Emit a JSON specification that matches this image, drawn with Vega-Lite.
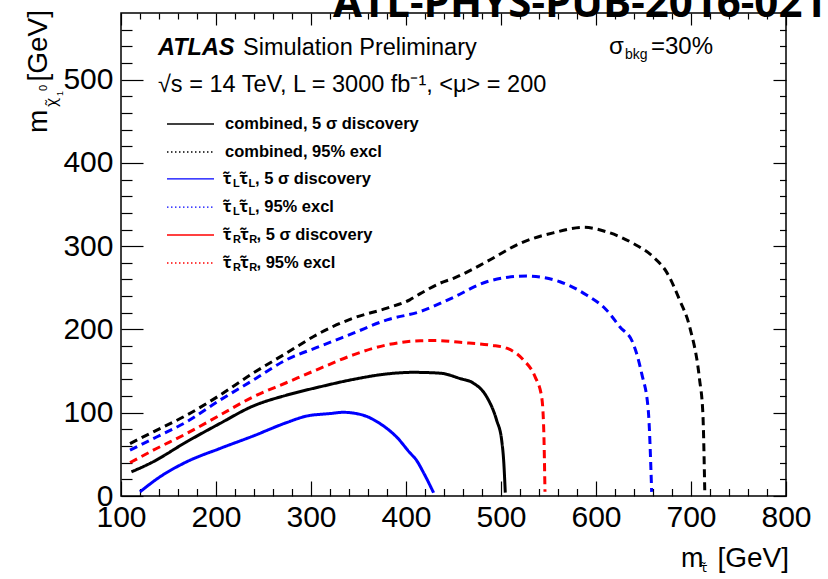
{
  "$schema": "https://vega.github.io/schema/vega-lite/v6.json",
  "width": 665,
  "height": 483,
  "autosize": {"type": "none"},
  "padding": {"left": 121, "top": 13, "right": 42, "bottom": 83},
  "background": "white",
  "config": {
    "view": {"stroke": "black", "strokeWidth": 1.5},
    "font": "Liberation Sans"
  },
  "data": {"values": [{}]},
  "datasets": {
    "curves": [
      {"s": "comb_disc", "m_stau": 111, "m_chi": 29},
      {"s": "comb_disc", "m_stau": 132, "m_chi": 40},
      {"s": "comb_disc", "m_stau": 169, "m_chi": 65},
      {"s": "comb_disc", "m_stau": 204, "m_chi": 87},
      {"s": "comb_disc", "m_stau": 239, "m_chi": 108},
      {"s": "comb_disc", "m_stau": 274, "m_chi": 121},
      {"s": "comb_disc", "m_stau": 309, "m_chi": 131},
      {"s": "comb_disc", "m_stau": 344.5, "m_chi": 140},
      {"s": "comb_disc", "m_stau": 380, "m_chi": 146.6},
      {"s": "comb_disc", "m_stau": 407.6, "m_chi": 148.5},
      {"s": "comb_disc", "m_stau": 436, "m_chi": 147.5},
      {"s": "comb_disc", "m_stau": 457, "m_chi": 141},
      {"s": "comb_disc", "m_stau": 471, "m_chi": 135.5},
      {"s": "comb_disc", "m_stau": 485, "m_chi": 119},
      {"s": "comb_disc", "m_stau": 495.4, "m_chi": 91},
      {"s": "comb_disc", "m_stau": 500.7, "m_chi": 67},
      {"s": "comb_disc", "m_stau": 503, "m_chi": 39},
      {"s": "comb_disc", "m_stau": 504.5, "m_chi": 4},

      {"s": "LL_disc", "m_stau": 120, "m_chi": 5},
      {"s": "LL_disc", "m_stau": 141, "m_chi": 23},
      {"s": "LL_disc", "m_stau": 169, "m_chi": 41},
      {"s": "LL_disc", "m_stau": 204, "m_chi": 57},
      {"s": "LL_disc", "m_stau": 239, "m_chi": 72},
      {"s": "LL_disc", "m_stau": 274, "m_chi": 88},
      {"s": "LL_disc", "m_stau": 295.5, "m_chi": 96},
      {"s": "LL_disc", "m_stau": 320, "m_chi": 99},
      {"s": "LL_disc", "m_stau": 334, "m_chi": 100.5},
      {"s": "LL_disc", "m_stau": 355, "m_chi": 97},
      {"s": "LL_disc", "m_stau": 372.6, "m_chi": 87},
      {"s": "LL_disc", "m_stau": 380, "m_chi": 81},
      {"s": "LL_disc", "m_stau": 390, "m_chi": 71},
      {"s": "LL_disc", "m_stau": 404, "m_chi": 52},
      {"s": "LL_disc", "m_stau": 411, "m_chi": 43},
      {"s": "LL_disc", "m_stau": 418, "m_chi": 29},
      {"s": "LL_disc", "m_stau": 429, "m_chi": 4},

      {"s": "RR_excl", "m_stau": 109.5, "m_chi": 40},
      {"s": "RR_excl", "m_stau": 134, "m_chi": 55},
      {"s": "RR_excl", "m_stau": 169, "m_chi": 75},
      {"s": "RR_excl", "m_stau": 204, "m_chi": 97},
      {"s": "RR_excl", "m_stau": 239, "m_chi": 119},
      {"s": "RR_excl", "m_stau": 274, "m_chi": 136},
      {"s": "RR_excl", "m_stau": 309, "m_chi": 153},
      {"s": "RR_excl", "m_stau": 344.5, "m_chi": 169.5},
      {"s": "RR_excl", "m_stau": 380, "m_chi": 181.5},
      {"s": "RR_excl", "m_stau": 415, "m_chi": 186.5},
      {"s": "RR_excl", "m_stau": 432, "m_chi": 186.7},
      {"s": "RR_excl", "m_stau": 457, "m_chi": 184.5},
      {"s": "RR_excl", "m_stau": 490, "m_chi": 181},
      {"s": "RR_excl", "m_stau": 506, "m_chi": 177.5},
      {"s": "RR_excl", "m_stau": 523.5, "m_chi": 163.5},
      {"s": "RR_excl", "m_stau": 535.8, "m_chi": 143.4},
      {"s": "RR_excl", "m_stau": 542.8, "m_chi": 119},
      {"s": "RR_excl", "m_stau": 545, "m_chi": 79},
      {"s": "RR_excl", "m_stau": 546.3, "m_chi": 5},

      {"s": "LL_excl", "m_stau": 109.5, "m_chi": 55},
      {"s": "LL_excl", "m_stau": 134, "m_chi": 69},
      {"s": "LL_excl", "m_stau": 169, "m_chi": 89},
      {"s": "LL_excl", "m_stau": 204, "m_chi": 115},
      {"s": "LL_excl", "m_stau": 239, "m_chi": 139},
      {"s": "LL_excl", "m_stau": 274, "m_chi": 163.5},
      {"s": "LL_excl", "m_stau": 309, "m_chi": 179.5},
      {"s": "LL_excl", "m_stau": 344.5, "m_chi": 195.5},
      {"s": "LL_excl", "m_stau": 380, "m_chi": 211.5},
      {"s": "LL_excl", "m_stau": 415, "m_chi": 221.5},
      {"s": "LL_excl", "m_stau": 450, "m_chi": 238.6},
      {"s": "LL_excl", "m_stau": 485, "m_chi": 257.3},
      {"s": "LL_excl", "m_stau": 527, "m_chi": 264.2},
      {"s": "LL_excl", "m_stau": 562, "m_chi": 257.3},
      {"s": "LL_excl", "m_stau": 590, "m_chi": 241.4},
      {"s": "LL_excl", "m_stau": 611, "m_chi": 223.4},
      {"s": "LL_excl", "m_stau": 625, "m_chi": 203.3},
      {"s": "LL_excl", "m_stau": 639, "m_chi": 183.5},
      {"s": "LL_excl", "m_stau": 648, "m_chi": 147.5},
      {"s": "LL_excl", "m_stau": 655, "m_chi": 103.4},
      {"s": "LL_excl", "m_stau": 658.6, "m_chi": 5},

      {"s": "comb_excl", "m_stau": 109.5, "m_chi": 63},
      {"s": "comb_excl", "m_stau": 134, "m_chi": 77},
      {"s": "comb_excl", "m_stau": 169, "m_chi": 97},
      {"s": "comb_excl", "m_stau": 204, "m_chi": 121},
      {"s": "comb_excl", "m_stau": 239, "m_chi": 147.5},
      {"s": "comb_excl", "m_stau": 274, "m_chi": 171.5},
      {"s": "comb_excl", "m_stau": 309, "m_chi": 195.5},
      {"s": "comb_excl", "m_stau": 344.5, "m_chi": 213.6},
      {"s": "comb_excl", "m_stau": 380, "m_chi": 225.6},
      {"s": "comb_excl", "m_stau": 404, "m_chi": 235.6},
      {"s": "comb_excl", "m_stau": 415, "m_chi": 243},
      {"s": "comb_excl", "m_stau": 436, "m_chi": 255.6},
      {"s": "comb_excl", "m_stau": 450, "m_chi": 261.4},
      {"s": "comb_excl", "m_stau": 485, "m_chi": 281.4},
      {"s": "comb_excl", "m_stau": 520, "m_chi": 303.4},
      {"s": "comb_excl", "m_stau": 555, "m_chi": 316},
      {"s": "comb_excl", "m_stau": 587, "m_chi": 322.6},
      {"s": "comb_excl", "m_stau": 611, "m_chi": 317.3},
      {"s": "comb_excl", "m_stau": 639, "m_chi": 303.4},
      {"s": "comb_excl", "m_stau": 660, "m_chi": 287.4},
      {"s": "comb_excl", "m_stau": 674, "m_chi": 269.4},
      {"s": "comb_excl", "m_stau": 688, "m_chi": 235.4},
      {"s": "comb_excl", "m_stau": 699, "m_chi": 201.4},
      {"s": "comb_excl", "m_stau": 709, "m_chi": 140},
      {"s": "comb_excl", "m_stau": 712.5, "m_chi": 99},
      {"s": "comb_excl", "m_stau": 714.5, "m_chi": 5}
    ]
  },
  "resolve": {"axis": {"x": "independent", "y": "independent"}},
  "layer": [
    {
      "data": {"name": "curves"},
      "mark": {"type": "line", "strokeWidth": 3, "strokeCap": "butt", "interpolate": "monotone", "clip": true},
      "encoding": {
        "x": {
          "field": "m_stau", "type": "quantitative",
          "scale": {"domain": [100, 800], "nice": false, "zero": false},
          "axis": {"orient": "bottom", "values": [100, 200, 300, 400, 500, 600, 700, 800], "ticks": false, "domain": false, "grid": false, "labelFont": "Liberation Sans", "labelFontSize": 30, "labelColor": "black", "labelPadding": 6, "labelFlush": false, "labelOverlap": false, "title": null}
        },
        "y": {
          "field": "m_chi", "type": "quantitative",
          "scale": {"domain": [0, 580], "nice": false, "zero": false},
          "axis": {"orient": "left", "values": [0, 100, 200, 300, 400, 500], "ticks": false, "domain": false, "grid": false, "labelFont": "Liberation Sans", "labelFontSize": 30, "labelColor": "black", "labelPadding": 8, "labelFlush": false, "labelOverlap": false, "title": null}
        },
        "color": {
          "field": "s", "type": "nominal", "legend": null,
          "scale": {"domain": ["comb_disc", "comb_excl", "LL_disc", "LL_excl", "RR_excl"], "range": ["#000000", "#000000", "#0000ff", "#0000ff", "#ff0000"]}
        },
        "strokeDash": {
          "field": "s", "type": "nominal", "legend": null,
          "scale": {"domain": ["comb_disc", "comb_excl", "LL_disc", "LL_excl", "RR_excl"], "range": [[1, 0], [8, 5], [1, 0], [8, 5], [8, 5]]}
        }
      }
    },
    {
      "mark": {"type": "rule", "color": "black", "strokeWidth": 1.3},
      "encoding": {
        "x": {"datum": 148.4, "axis": {"orient": "bottom", "values": [100, 200, 300, 400, 500, 600, 700, 800], "labels": false, "domain": false, "grid": false, "tickSize": -15, "tickColor": "black", "tickWidth": 1.2, "title": null}},
        "x2": {"datum": 197.9},
        "y": {"datum": 446.7, "axis": {"orient": "left", "values": [0, 100, 200, 300, 400, 500], "labels": false, "domain": false, "grid": false, "tickSize": -22, "tickColor": "black", "tickWidth": 1.2, "title": null}}
      }
    },
    {
      "mark": {"type": "rule", "color": "black", "strokeWidth": 1.3, "strokeDash": [1.5, 2.5]},
      "encoding": {
        "x": {"datum": 148.4, "axis": {"orient": "bottom", "values": [120, 140, 160, 180, 220, 240, 260, 280, 320, 340, 360, 380, 420, 440, 460, 480, 520, 540, 560, 580, 620, 640, 660, 680, 720, 740, 760, 780], "labels": false, "domain": false, "grid": false, "tickSize": -7.5, "tickColor": "black", "tickWidth": 1.2, "title": null}},
        "x2": {"datum": 197.9},
        "y": {"datum": 413.1, "axis": {"orient": "left", "values": [20, 40, 60, 80, 120, 140, 160, 180, 220, 240, 260, 280, 320, 340, 360, 380, 420, 440, 460, 480, 520, 540, 560], "labels": false, "domain": false, "grid": false, "tickSize": -11, "tickColor": "black", "tickWidth": 1.2, "title": null}}
      }
    },
    {
      "mark": {"type": "rule", "color": "#0000ff", "strokeWidth": 1.3},
      "encoding": {
        "x": {"datum": 148.4, "axis": {"orient": "top", "values": [100, 200, 300, 400, 500, 600, 700, 800], "labels": false, "domain": false, "grid": false, "tickSize": -12, "tickColor": "black", "tickWidth": 1.2, "title": null}},
        "x2": {"datum": 197.9},
        "y": {"datum": 380.7, "axis": {"orient": "right", "values": [0, 100, 200, 300, 400, 500], "labels": false, "domain": false, "grid": false, "tickSize": -13, "tickColor": "black", "tickWidth": 1.2, "title": null}}
      }
    },
    {
      "mark": {"type": "rule", "color": "#0000ff", "strokeWidth": 1.3, "strokeDash": [1.5, 2.5]},
      "encoding": {
        "x": {"datum": 148.4, "axis": {"orient": "top", "values": [120, 140, 160, 180, 220, 240, 260, 280, 320, 340, 360, 380, 420, 440, 460, 480, 520, 540, 560, 580, 620, 640, 660, 680, 720, 740, 760, 780], "labels": false, "domain": false, "grid": false, "tickSize": -6, "tickColor": "black", "tickWidth": 1.2, "title": null}},
        "x2": {"datum": 197.9},
        "y": {"datum": 347.0, "axis": {"orient": "right", "values": [20, 40, 60, 80, 120, 140, 160, 180, 220, 240, 260, 280, 320, 340, 360, 380, 420, 440, 460, 480, 520, 540, 560], "labels": false, "domain": false, "grid": false, "tickSize": -6.5, "tickColor": "black", "tickWidth": 1.2, "title": null}}
      }
    },
    {
      "mark": {"type": "rule", "color": "#ff0000", "strokeWidth": 1.3},
      "encoding": {"x": {"datum": 148.4, "axis": null}, "x2": {"datum": 197.9}, "y": {"datum": 313.4, "axis": null}}
    },
    {
      "mark": {"type": "rule", "color": "#ff0000", "strokeWidth": 1.3, "strokeDash": [1.5, 2.5]},
      "encoding": {"x": {"datum": 148.4, "axis": null}, "x2": {"datum": 197.9}, "y": {"datum": 279.8, "axis": null}}
    },

    {"mark": {"type": "text", "text": "combined, 5 σ discovery", "font": "Liberation Sans", "fontSize": 16.5, "fontWeight": "bold", "align": "left", "baseline": "middle", "color": "black"},
     "encoding": {"x": {"datum": 209.5, "axis": null}, "y": {"datum": 446.7, "axis": null}}},
    {"mark": {"type": "text", "text": "combined, 95% excl", "font": "Liberation Sans", "fontSize": 16.5, "fontWeight": "bold", "align": "left", "baseline": "middle", "color": "black"},
     "encoding": {"x": {"datum": 209.5, "axis": null}, "y": {"datum": 413.1, "axis": null}}},

    {"mark": {"type": "text", "text": "τ̃", "font": "Noto Sans", "fontSize": 16, "fontWeight": "bold", "align": "left", "baseline": "middle", "color": "black"},
     "encoding": {"x": {"datum": 207.4, "axis": null}, "y": {"datum": 380.7, "axis": null}}},
    {"mark": {"type": "text", "text": "L", "font": "Liberation Sans", "fontSize": 11, "fontWeight": "bold", "align": "left", "baseline": "middle", "dy": 5, "color": "black"},
     "encoding": {"x": {"datum": 217.9, "axis": null}, "y": {"datum": 380.7, "axis": null}}},
    {"mark": {"type": "text", "text": "τ̃", "font": "Noto Sans", "fontSize": 16, "fontWeight": "bold", "align": "left", "baseline": "middle", "color": "black"},
     "encoding": {"x": {"datum": 224.7, "axis": null}, "y": {"datum": 380.7, "axis": null}}},
    {"mark": {"type": "text", "text": "L", "font": "Liberation Sans", "fontSize": 11, "fontWeight": "bold", "align": "left", "baseline": "middle", "dy": 5, "color": "black"},
     "encoding": {"x": {"datum": 234.2, "axis": null}, "y": {"datum": 380.7, "axis": null}}},
    {"mark": {"type": "text", "text": ", 5 σ discovery", "font": "Liberation Sans", "fontSize": 16.5, "fontWeight": "bold", "align": "left", "baseline": "middle", "color": "black"},
     "encoding": {"x": {"datum": 241.1, "axis": null}, "y": {"datum": 380.7, "axis": null}}},

    {"mark": {"type": "text", "text": "τ̃", "font": "Noto Sans", "fontSize": 16, "fontWeight": "bold", "align": "left", "baseline": "middle", "color": "black"},
     "encoding": {"x": {"datum": 207.4, "axis": null}, "y": {"datum": 347.0, "axis": null}}},
    {"mark": {"type": "text", "text": "L", "font": "Liberation Sans", "fontSize": 11, "fontWeight": "bold", "align": "left", "baseline": "middle", "dy": 5, "color": "black"},
     "encoding": {"x": {"datum": 217.9, "axis": null}, "y": {"datum": 347.0, "axis": null}}},
    {"mark": {"type": "text", "text": "τ̃", "font": "Noto Sans", "fontSize": 16, "fontWeight": "bold", "align": "left", "baseline": "middle", "color": "black"},
     "encoding": {"x": {"datum": 224.7, "axis": null}, "y": {"datum": 347.0, "axis": null}}},
    {"mark": {"type": "text", "text": "L", "font": "Liberation Sans", "fontSize": 11, "fontWeight": "bold", "align": "left", "baseline": "middle", "dy": 5, "color": "black"},
     "encoding": {"x": {"datum": 234.2, "axis": null}, "y": {"datum": 347.0, "axis": null}}},
    {"mark": {"type": "text", "text": ", 95% excl", "font": "Liberation Sans", "fontSize": 16.5, "fontWeight": "bold", "align": "left", "baseline": "middle", "color": "black"},
     "encoding": {"x": {"datum": 241.1, "axis": null}, "y": {"datum": 347.0, "axis": null}}},

    {"mark": {"type": "text", "text": "τ̃", "font": "Noto Sans", "fontSize": 16, "fontWeight": "bold", "align": "left", "baseline": "middle", "color": "black"},
     "encoding": {"x": {"datum": 207.4, "axis": null}, "y": {"datum": 313.4, "axis": null}}},
    {"mark": {"type": "text", "text": "R", "font": "Liberation Sans", "fontSize": 11, "fontWeight": "bold", "align": "left", "baseline": "middle", "dy": 5, "color": "black"},
     "encoding": {"x": {"datum": 217.9, "axis": null}, "y": {"datum": 313.4, "axis": null}}},
    {"mark": {"type": "text", "text": "τ̃", "font": "Noto Sans", "fontSize": 16, "fontWeight": "bold", "align": "left", "baseline": "middle", "color": "black"},
     "encoding": {"x": {"datum": 225.4, "axis": null}, "y": {"datum": 313.4, "axis": null}}},
    {"mark": {"type": "text", "text": "R", "font": "Liberation Sans", "fontSize": 11, "fontWeight": "bold", "align": "left", "baseline": "middle", "dy": 5, "color": "black"},
     "encoding": {"x": {"datum": 235.0, "axis": null}, "y": {"datum": 313.4, "axis": null}}},
    {"mark": {"type": "text", "text": ", 5 σ discovery", "font": "Liberation Sans", "fontSize": 16.5, "fontWeight": "bold", "align": "left", "baseline": "middle", "color": "black"},
     "encoding": {"x": {"datum": 242.6, "axis": null}, "y": {"datum": 313.4, "axis": null}}},

    {"mark": {"type": "text", "text": "τ̃", "font": "Noto Sans", "fontSize": 16, "fontWeight": "bold", "align": "left", "baseline": "middle", "color": "black"},
     "encoding": {"x": {"datum": 207.4, "axis": null}, "y": {"datum": 279.8, "axis": null}}},
    {"mark": {"type": "text", "text": "R", "font": "Liberation Sans", "fontSize": 11, "fontWeight": "bold", "align": "left", "baseline": "middle", "dy": 5, "color": "black"},
     "encoding": {"x": {"datum": 217.9, "axis": null}, "y": {"datum": 279.8, "axis": null}}},
    {"mark": {"type": "text", "text": "τ̃", "font": "Noto Sans", "fontSize": 16, "fontWeight": "bold", "align": "left", "baseline": "middle", "color": "black"},
     "encoding": {"x": {"datum": 225.4, "axis": null}, "y": {"datum": 279.8, "axis": null}}},
    {"mark": {"type": "text", "text": "R", "font": "Liberation Sans", "fontSize": 11, "fontWeight": "bold", "align": "left", "baseline": "middle", "dy": 5, "color": "black"},
     "encoding": {"x": {"datum": 235.0, "axis": null}, "y": {"datum": 279.8, "axis": null}}},
    {"mark": {"type": "text", "text": ", 95% excl", "font": "Liberation Sans", "fontSize": 16.5, "fontWeight": "bold", "align": "left", "baseline": "middle", "color": "black"},
     "encoding": {"x": {"datum": 242.6, "axis": null}, "y": {"datum": 279.8, "axis": null}}},

    {"mark": {"type": "text", "text": "ATL-PHYS-PUB-2016-021", "font": "Open Sans", "fontSize": 42, "fontWeight": "bold", "align": "left", "baseline": "alphabetic", "color": "black"},
     "encoding": {"x": {"datum": 323.2, "axis": null}, "y": {"datum": 575.2, "axis": null}}},
    {"mark": {"type": "text", "text": "ATLAS", "font": "Liberation Sans", "fontSize": 23.5, "fontWeight": "bold", "fontStyle": "italic", "align": "left", "baseline": "alphabetic", "color": "black"},
     "encoding": {"x": {"datum": 138.9, "axis": null}, "y": {"datum": 529.6, "axis": null}}},
    {"mark": {"type": "text", "text": "Simulation Preliminary", "font": "Liberation Sans", "fontSize": 23.5, "align": "left", "baseline": "alphabetic", "color": "black"},
     "encoding": {"x": {"datum": 228.4, "axis": null}, "y": {"datum": 529.6, "axis": null}}},
    {"mark": {"type": "text", "text": "√s = 14 TeV, L = 3000 fb⁻¹, <μ> = 200", "font": "Liberation Sans", "fontSize": 23.5, "align": "left", "baseline": "alphabetic", "color": "black"},
     "encoding": {"x": {"datum": 138.9, "axis": null}, "y": {"datum": 485.1, "axis": null}}},
    {"mark": {"type": "text", "text": "σ", "font": "Liberation Sans", "fontSize": 24, "align": "left", "baseline": "alphabetic", "color": "black"},
     "encoding": {"x": {"datum": 613.7, "axis": null}, "y": {"datum": 530.8, "axis": null}}},
    {"mark": {"type": "text", "text": "bkg", "font": "Liberation Sans", "fontSize": 14, "align": "left", "baseline": "alphabetic", "color": "black"},
     "encoding": {"x": {"datum": 630.5, "axis": null}, "y": {"datum": 524.8, "axis": null}}},
    {"mark": {"type": "text", "text": "=30%", "font": "Liberation Sans", "fontSize": 24, "align": "left", "baseline": "alphabetic", "color": "black"},
     "encoding": {"x": {"datum": 657.9, "axis": null}, "y": {"datum": 530.8, "axis": null}}},

    {"mark": {"type": "text", "text": "m", "font": "Liberation Sans", "fontSize": 27, "align": "left", "baseline": "alphabetic", "color": "black"},
     "encoding": {"x": {"datum": 689.4, "axis": null}, "y": {"datum": -85.3, "axis": null}}},
    {"mark": {"type": "text", "text": "τ̃", "font": "Noto Sans", "fontSize": 13, "align": "left", "baseline": "alphabetic", "color": "black"},
     "encoding": {"x": {"datum": 710.5, "axis": null}, "y": {"datum": -91.5, "axis": null}}},
    {"mark": {"type": "text", "text": "[GeV]", "font": "Liberation Sans", "fontSize": 28, "align": "right", "baseline": "alphabetic", "color": "black"},
     "encoding": {"x": {"datum": 803.2, "axis": null}, "y": {"datum": -85.3, "axis": null}}},

    {"mark": {"type": "text", "text": "m", "font": "Liberation Sans", "fontSize": 28, "angle": 270, "align": "left", "baseline": "alphabetic", "color": "black"},
     "encoding": {"x": {"datum": 22.1, "axis": null}, "y": {"datum": 435.9, "axis": null}}},
    {"mark": {"type": "text", "text": "χ̃", "font": "Noto Sans", "fontSize": 15, "angle": 270, "align": "left", "baseline": "alphabetic", "color": "black"},
     "encoding": {"x": {"datum": 31.6, "axis": null}, "y": {"datum": 467.1, "axis": null}}},
    {"mark": {"type": "text", "text": "1", "font": "Liberation Sans", "fontSize": 9, "angle": 270, "align": "left", "baseline": "alphabetic", "color": "black"},
     "encoding": {"x": {"datum": 38.9, "axis": null}, "y": {"datum": 480.3, "axis": null}}},
    {"mark": {"type": "text", "text": "0", "font": "Liberation Sans", "fontSize": 11, "angle": 270, "align": "left", "baseline": "alphabetic", "color": "black"},
     "encoding": {"x": {"datum": 22.1, "axis": null}, "y": {"datum": 486.3, "axis": null}}},
    {"mark": {"type": "text", "text": "[GeV]", "font": "Liberation Sans", "fontSize": 28, "angle": 270, "align": "right", "baseline": "alphabetic", "color": "black"},
     "encoding": {"x": {"datum": 22.1, "axis": null}, "y": {"datum": 583.6, "axis": null}}}
  ]
}
